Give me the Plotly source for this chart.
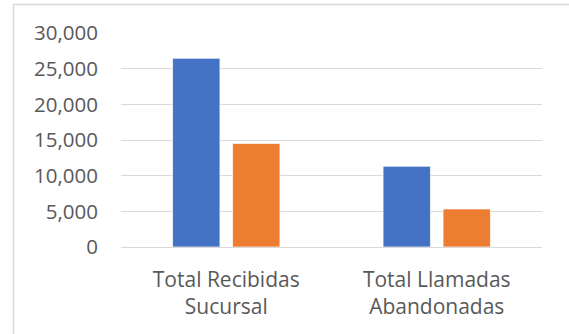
import plotly.graph_objects as go

categories = ["Total Recibidas<br>Sucursal", "Total Llamadas<br>Abandonadas"]
series_a = [26450, 11320]
series_b = [14520, 5330]
y_ticks = [0, 5000, 10000, 15000, 20000, 25000, 30000]
y_tick_labels = ["0", "5,000", "10,000", "15,000", "20,000", "25,000", "30,000"]

W, H = 569, 334
L, R, T, B = 121, 27, 33, 87
pw, ph = W - L - R, H - T - B

fig = go.Figure()
fig.add_trace(go.Bar(x=categories, y=series_a, marker=dict(color="#4472C4", line=dict(color="rgba(255,255,255,0.7)", width=1))))
fig.add_trace(go.Bar(x=categories, y=series_b, marker=dict(color="#ED7D31", line=dict(color="rgba(255,255,255,0.7)", width=1))))

yfont = dict(family="Open Sans", size=20.5, color="#595959")
xfont = dict(family="Open Sans", size=21, color="#595959")
fig.update_layout(
    width=W, height=H,
    margin=dict(l=L, r=R, t=T, b=B),
    paper_bgcolor="white", plot_bgcolor="white",
    showlegend=False,
    barmode="group", bargap=0.43, bargroupgap=0.21,
    font=yfont,
    xaxis=dict(showgrid=False, showline=False, zeroline=False, ticks="", tickfont=xfont,
               ticklabelstandoff=18),
    yaxis=dict(range=[0, 30000], tickvals=y_ticks, ticktext=y_tick_labels,
               showgrid=True, gridcolor="#D9D9D9", gridwidth=1.4,
               zeroline=True, zerolinecolor="#D9D9D9", zerolinewidth=1.4,
               showline=False, ticks="", tickfont=yfont, ticklabelstandoff=22),
)

# chart border (extends beyond visible window on right and bottom)
x0 = (13.5 - L) / pw
y1 = 1 + (T - 4.5) / ph
fig.add_shape(type="rect", xref="paper", yref="paper", x0=x0, x1=1.3, y0=-0.6, y1=y1,
              line=dict(color="#D9D9D9", width=1.5), fillcolor="rgba(0,0,0,0)", layer="below")

fig.write_html("out.html")
